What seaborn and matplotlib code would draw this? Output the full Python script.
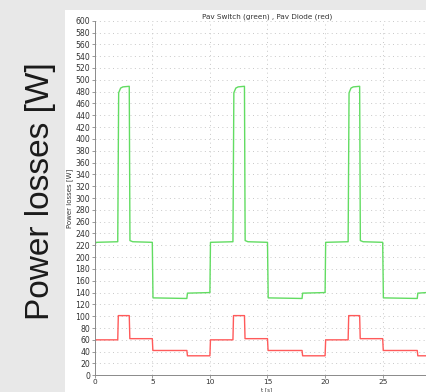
import numpy as np
import pandas as pd
import matplotlib
matplotlib.use("Agg")
import matplotlib.pyplot as plt
import seaborn as sns

# ---- data ----
switch_t = [0.0, 0.15, 2.0, 2.08, 2.25, 2.45, 3.0, 3.06, 3.3, 5.0, 5.06, 8.0, 8.05, 10.0,
            10.05, 12.0, 12.08, 12.25, 12.45, 13.0, 13.06, 13.3, 15.0, 15.06, 18.0, 18.05, 20.0,
            20.05, 22.0, 22.08, 22.25, 22.45, 23.0, 23.06, 23.3, 25.0, 25.06, 28.0, 28.05, 28.8]
switch_p = [222, 225, 226, 478, 486, 488, 489, 228, 226, 225, 131, 130, 139, 140,
            225, 226, 478, 486, 488, 489, 228, 226, 225, 131, 130, 139, 140,
            225, 226, 478, 486, 488, 489, 228, 226, 225, 131, 130, 139, 140]

diode_t = [0.0, 2.0, 2.05, 3.0, 3.05, 5.0, 5.05, 8.0, 8.05, 10.0,
           10.05, 12.0, 12.05, 13.0, 13.05, 15.0, 15.05, 18.0, 18.05, 20.0,
           20.05, 22.0, 22.05, 23.0, 23.05, 25.0, 25.05, 28.0, 28.05, 28.8]
diode_p = [60, 60, 101, 101, 62, 62, 42, 42, 33, 33,
           60, 60, 101, 101, 62, 62, 42, 42, 33, 33,
           60, 60, 101, 101, 62, 62, 42, 42, 33, 33]

y_ticks = list(range(0, 601, 20))
x_ticks = [0, 5, 10, 15, 20, 25]
title = "Pav Switch (green) , Pav Diode (red)"
outer_label = "Power losses [W]"
inner_label = "Power losses [W]"
x_label = "t [s]"

df_sw = pd.DataFrame({"t": switch_t, "p": switch_p})
df_di = pd.DataFrame({"t": diode_t, "p": diode_p})

sns.set_theme(style="white")
plt.rcParams['font.family'] = ['DejaVu Sans']

W, H = 426, 392
fig = plt.figure(figsize=(W / 100, H / 100), dpi=100, facecolor="#e8e8e8")

# white panel of the embedded screenshot
bg = fig.add_axes([65 / W, 0, 1 - 65 / W, (H - 10) / H], zorder=0)
bg.set_facecolor("white")
bg.set_xticks([])
bg.set_yticks([])
for s in bg.spines.values():
    s.set_visible(False)

left = 94.7 / W
bottom = (H - 375.3) / H
top = (H - 20.7) / H
ax = fig.add_axes([left, bottom, 1 - left, top - bottom], zorder=2)
ax.set_facecolor("none")

sns.lineplot(data=df_sw, x="t", y="p", ax=ax, color="#62dc62", linewidth=1.0,
             estimator=None, sort=False)
sns.lineplot(data=df_di, x="t", y="p", ax=ax, color="#ff5a5a", linewidth=1.0,
             estimator=None, sort=False)

ax.set_xlim(0, 28.76)
ax.set_ylim(0, 600)
ax.set_yticks(y_ticks)
ax.set_xticks(x_ticks)
ax.tick_params(axis="both", labelsize=5.6, labelcolor="#333333", length=2.2,
               width=0.6, pad=1.0, direction="out", left=True, bottom=True,
               color="#888888")
ax.tick_params(axis="x", labelsize=5.3, pad=0.6)

ax.grid(True, color="#c8c8c8", linestyle=(0, (1, 3.5)), linewidth=0.7)
for s in ["top", "right"]:
    ax.spines[s].set_visible(False)
for s in ["left", "bottom"]:
    ax.spines[s].set_color("#8a8a8a")
    ax.spines[s].set_linewidth(0.7)

ax.set_title(title, fontsize=5.2, color="#333333", pad=1.5, x=0.52)
ax.set_ylabel(inner_label, fontsize=5.0, color="#333333", labelpad=1.5)
ax.set_xlabel("")
fig.text(267 / W, 0.0, x_label, ha="center", va="bottom", fontsize=4.0,
         color="#333333")

fig.text(41 / W, 1 - 191 / H, outer_label, rotation=90, ha="center", va="center",
         fontsize=24, color="#1a1a1a", family=["Liberation Sans", "DejaVu Sans"])

fig.savefig("out.png", dpi=100, facecolor=fig.get_facecolor())
